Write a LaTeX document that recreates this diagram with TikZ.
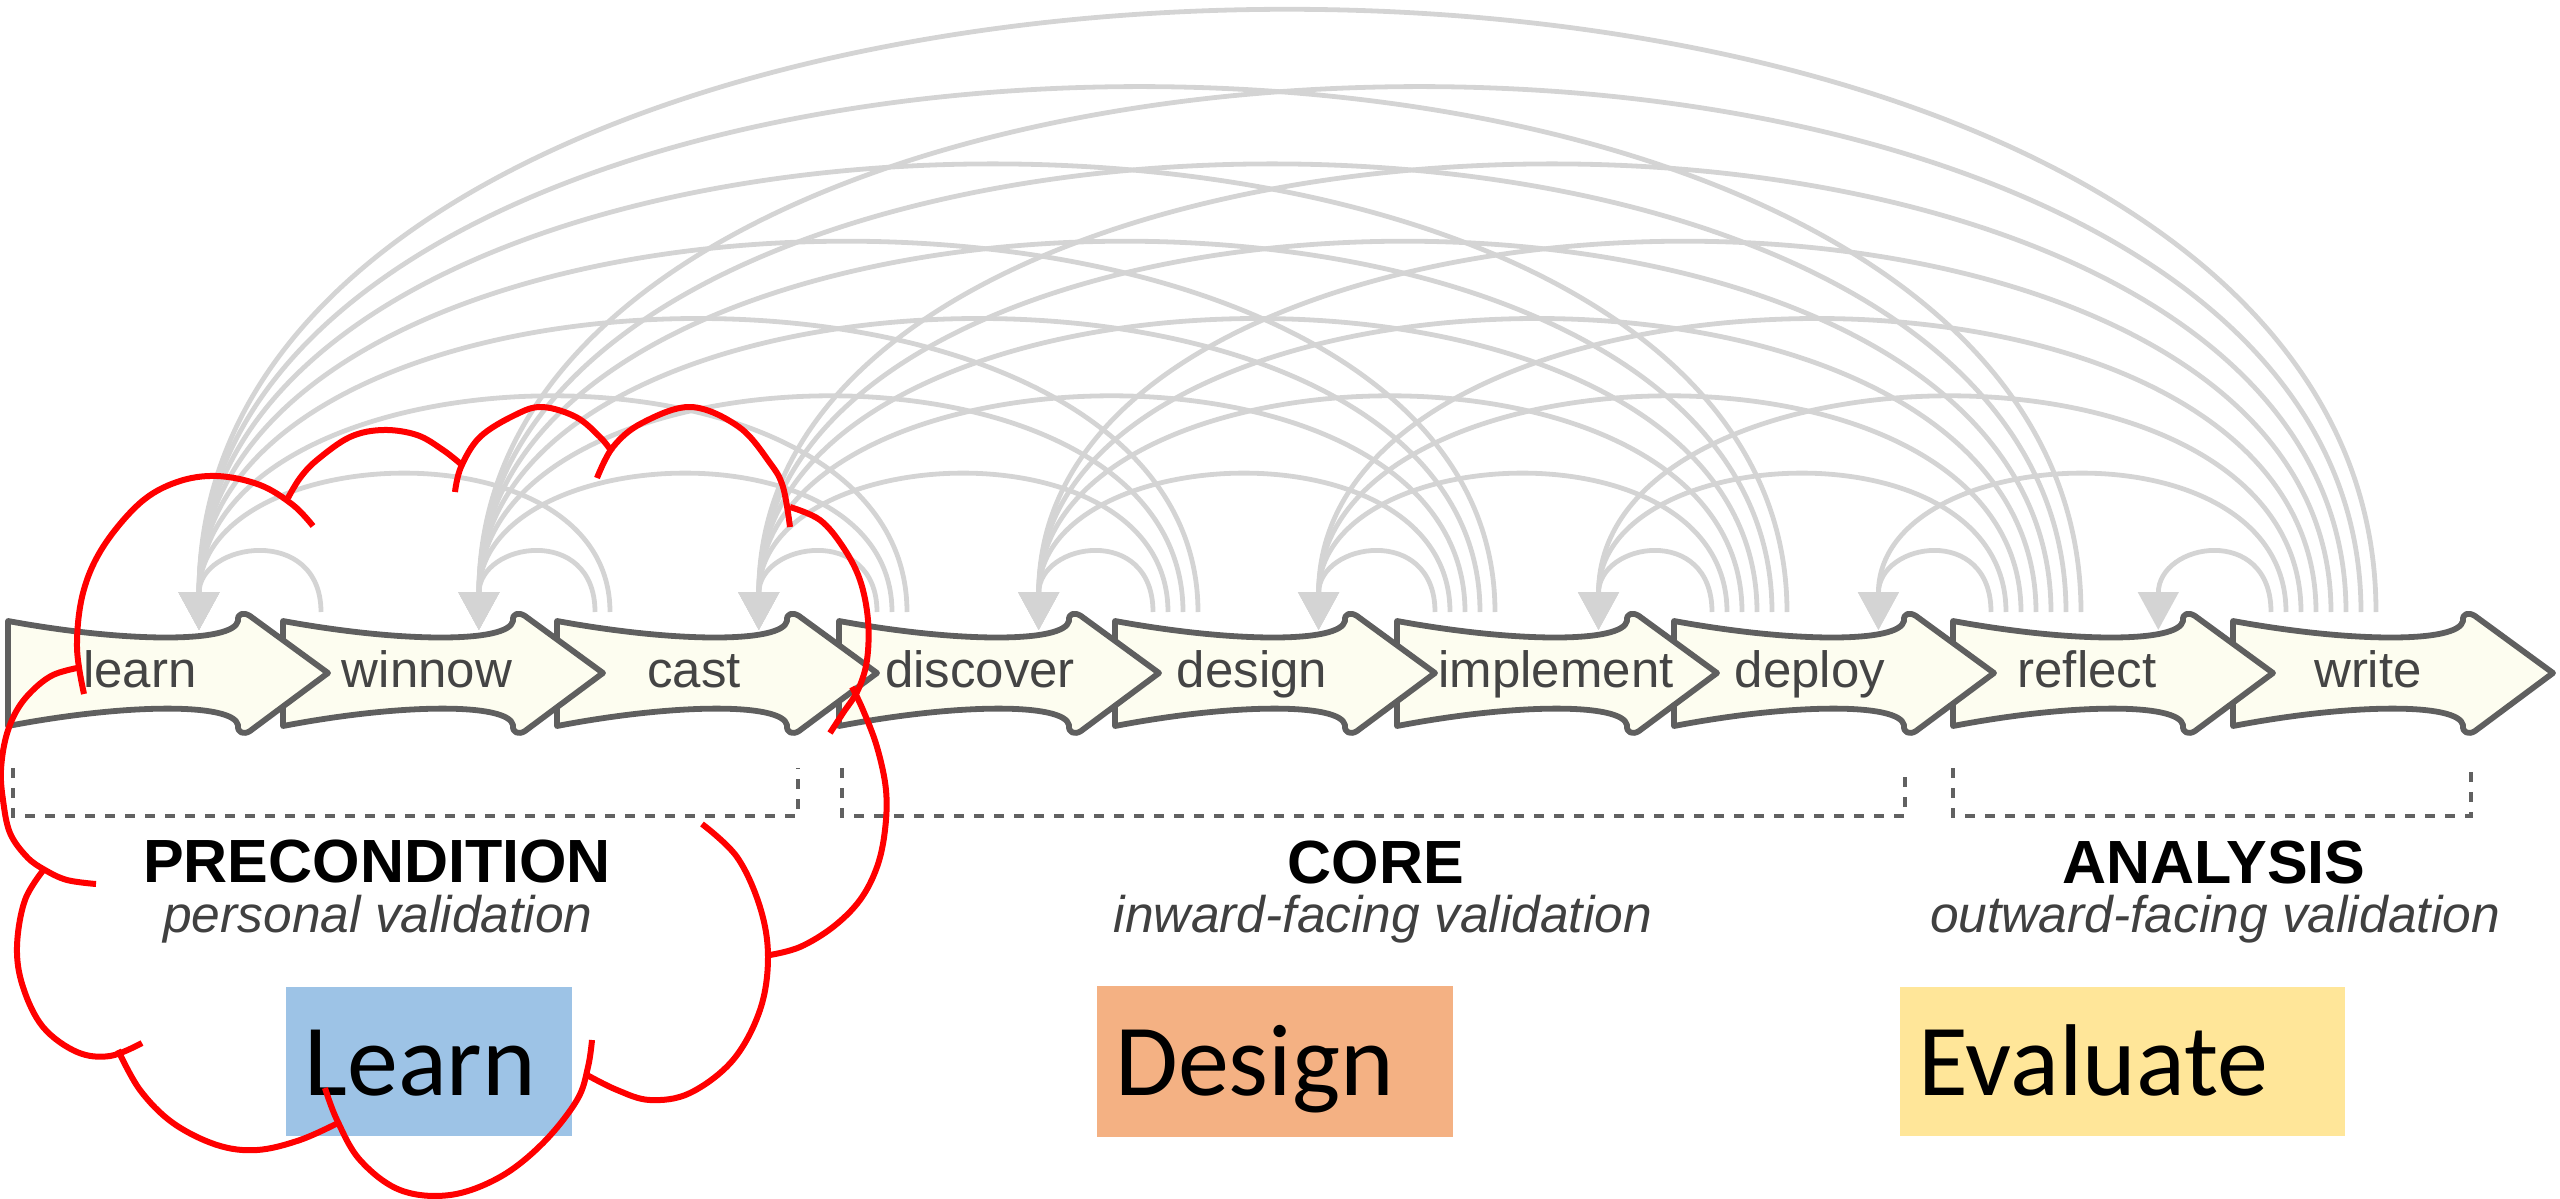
\documentclass[tikz,border=0pt]{standalone}
\usepackage{fontspec}
\setmainfont{Liberation Sans}
\newfontfamily\tagfont{Carlito}
\usetikzlibrary{arrows.meta}

\definecolor{chevfill}{RGB}{253,253,240}
\definecolor{chevline}{RGB}{95,95,95}
\definecolor{arcgray}{RGB}{212,212,212}
\definecolor{labelgray}{RGB}{68,68,68}
\definecolor{subgray}{RGB}{64,64,64}
\definecolor{dashgray}{RGB}{97,97,97}
\definecolor{learnblue}{RGB}{157,195,230}
\definecolor{designorange}{RGB}{244,177,131}
\definecolor{evalyellow}{RGB}{255,230,153}

% left edges of the nine step chevrons
\def\chevlefts{{8,283,557,839,1115,1397,1674,1953,2233}}

\begin{document}
\begin{tikzpicture}[x=0.5pt,y=-0.5pt,
  chevron/.style={draw=chevline, fill=chevfill, line width=2.9pt, line join=round},
  steplabel/.style={text=labelgray, font=\fontsize{25.5pt}{30pt}\selectfont, inner sep=0pt, anchor=base},
  backarc/.style={draw=arcgray, line width=2.4pt, -{Triangle[width=20pt,length=19pt]}},
  bracket/.style={draw=dashgray, line width=2.3pt, dash pattern=on 5pt off 5pt},
  phase/.style={font=\bfseries\fontsize{30.5pt}{36pt}\selectfont, inner sep=0pt, anchor=base},
  phasesub/.style={text=subgray, font=\itshape\fontsize{25.75pt}{30pt}\selectfont, inner sep=0pt, anchor=base},
  tagbox/.style={inner sep=0pt, anchor=north west},
  tagtext/.style={font=\tagfont\fontsize{51pt}{60pt}\selectfont, inner sep=0pt, anchor=base west},
  cloudline/.style={draw=red, line width=3pt}
]
\useasboundingbox (0,0) rectangle (2560,1199);

% arrow targets above each step
\foreach \i in {0,...,7}
  \coordinate (tgt\i) at ({199+279.9*\i},630);

% feedback arcs: every later step loops back to every earlier one
\foreach \j in {1,...,8}{
  \pgfmathtruncatemacro\jm{\j-1}
  \foreach \i in {0,...,\jm}{
    \pgfmathtruncatemacro\k{\j-\i}
    \pgfmathsetmacro\sx{\chevlefts[\j]+38+15*(\k-1)}
    \pgfmathsetmacro\cd{88+103.07*(\k-1)}
    \coordinate (src\j-\k) at (\sx,612);
    \draw[backarc] (src\j-\k) .. controls +(0,-\cd) and +(0,-\cd) .. (tgt\i);
  }
}

% step chevrons, drawn right to left so each head overlaps the next body
\foreach \L in {2233,1953,1674,1397,1115,839,557,283,8}{
  \draw[chevron, shift={(\L,673)}]
    (0,-52) .. controls (120,-30) and (225,-30) .. (230,-52)
    .. controls (229,-60) and (236,-61) .. (242,-57)
    -- (320,0) -- (242,58)
    .. controls (236,62) and (229,60) .. (230,52)
    .. controls (225,30) and (120,30) .. (0,53) -- cycle;
}

% step names
\node[steplabel] (learn)     at (140,687)  {learn};
\node[steplabel] (winnow)    at (427,687)  {winnow};
\node[steplabel] (cast)      at (694,687)  {cast};
\node[steplabel] (discover)  at (980,687)  {discover};
\node[steplabel] (design)    at (1252,687) {design};
\node[steplabel] (implement) at (1556,687) {implement};
\node[steplabel] (deploy)    at (1810,687) {deploy};
\node[steplabel] (reflect)   at (2087,687) {reflect};
\node[steplabel] (write)     at (2368,687) {write};

% phase brackets
\draw[bracket] (13,768) -- (13,816) -- (798,816) -- (798,768);
\draw[bracket] (842,768) -- (842,816) -- (1905,816) -- (1905,768);
\draw[bracket] (1953,768) -- (1953,816) -- (2471,816) -- (2471,768);

% phase titles
\node[phase]    (pre)     at (377,882)  {PRECONDITION};
\node[phasesub] (presub)  at (378,932)  {personal validation};
\node[phase]    (core)    at (1376,883) {CORE};
\node[phasesub] (coresub) at (1383,932) {inward-facing validation};
\node[phase]    (ana)     at (2214,883) {ANALYSIS};
\node[phasesub] (anasub)  at (2215,932) {outward-facing validation};

% coloured tags
\node[tagbox, fill=learnblue, minimum width=143pt, minimum height=74.5pt] (learnbox) at (286,987) {};
\node[tagtext] (learntag) at (304,1095) {Learn};
\node[tagbox, fill=designorange, minimum width=178pt, minimum height=75.5pt] (designbox) at (1097,986) {};
\node[tagtext] (designtag) at (1115,1095) {Design};
\node[tagbox, fill=evalyellow, minimum width=222.5pt, minimum height=74.5pt] (evalbox) at (1900,987) {};
\node[tagtext] (evaltag) at (1918,1095) {Evaluate};

% red cloud outline round the precondition phase
\draw[cloudline] plot[smooth, tension=0.6] coordinates {(84,694) (77,647) (83,593) (103,547) (140,503) (177,482) (217,476) (260,485) (293,505) (313,526)};
\draw[cloudline] plot[smooth, tension=0.6] coordinates {(288,498) (300,478) (317,460) (350,437) (383,430) (417,435) (443,450) (462,465)};
\draw[cloudline] plot[smooth, tension=0.6] coordinates {(455,492) (461,467) (480,437) (515,415) (542,407) (576,417) (600,437) (612,452)};
\draw[cloudline] plot[smooth, tension=0.6] coordinates {(597,478) (613,447) (642,423) (691,407) (739,427) (770,463) (783,487) (790,527)};
\draw[cloudline] plot[smooth, tension=0.6] coordinates {(790,507) (820,520) (843,547) (860,580) (868,620) (867,660) (858,690) (843,713) (830,733)};
\draw[cloudline] plot[smooth, tension=0.6] coordinates {(852,687) (863,710) (877,747) (886,790) (885,830) (877,867) (860,900) (833,927) (800,947) (770,955)};
\draw[cloudline] plot[smooth, tension=0.6] coordinates {(702,824) (737,857) (760,907) (768,957) (760,1010) (733,1060) (690,1093) (650,1100) (617,1090) (587,1075)};
\draw[cloudline] plot[smooth, tension=0.6] coordinates {(592,1040) (588,1067) (577,1100) (543,1143) (500,1177) (450,1195) (400,1190) (360,1160) (337,1120) (325,1088)};
\draw[cloudline] plot[smooth, tension=0.6] coordinates {(118,1050) (140,1090) (173,1123) (217,1145) (257,1150) (300,1140) (340,1122)};
\draw[cloudline] plot[smooth, tension=0.6] coordinates {(45,868) (25,900) (17,947) (23,987) (43,1027) (77,1052) (110,1056) (142,1043)};
\draw[cloudline] plot[smooth, tension=0.6] coordinates {(77,668) (53,675) (33,690) (17,710) (6,737) (1,770) (3,800) (10,833) (27,857) (45,870) (67,880) (96,884)};
\end{tikzpicture}
\end{document}
